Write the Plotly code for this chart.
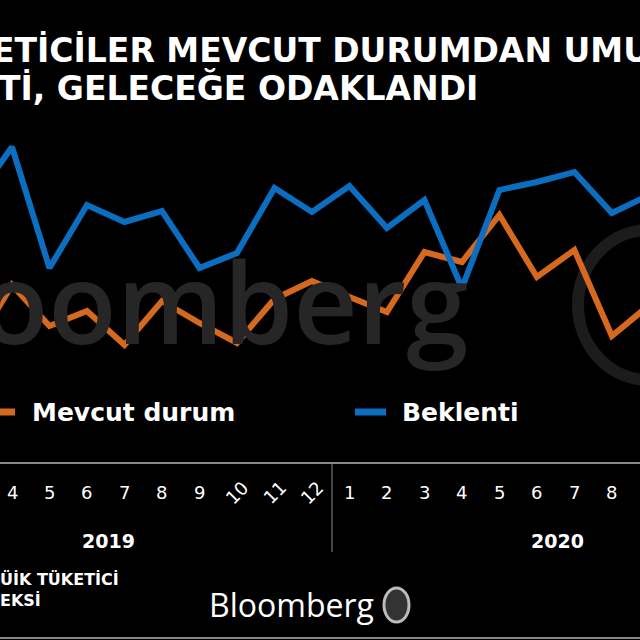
import plotly.graph_objects as go

months = ["3","4","5","6","7","8","9","10","11","12","1","2","3","4","5","6","7","8","9"]
mevcut = [26.5,57.5,37,44.5,27.5,49.5,38.5,28.5,50.5,59.5,51.5,44,74,69,92.5,61.5,75,32,47.5]
beklenti = [100,126.5,66,97.5,89,94.5,66,73.5,106,94,107,86,100,56,105,109,114,93.5,102.5]
years = ["2019","2020"]

xs = list(range(-1, len(months)-1))
fig = go.Figure()
fig.add_trace(go.Scatter(x=xs, y=mevcut, mode="lines", line=dict(color="#D7691F", width=6)))
fig.add_trace(go.Scatter(x=xs, y=beklenti, mode="lines", line=dict(color="#0B6EC0", width=6)))

W = 640.0
def px(x): return x / W
def py(y): return 1 - y / W

fig.update_layout(
    width=640, height=640, margin=dict(l=0, r=0, t=0, b=0),
    paper_bgcolor="black", plot_bgcolor="rgba(0,0,0,0)", showlegend=False,
    xaxis=dict(range=[-0.32, 16.75], visible=False, domain=[0, 1]),
    yaxis=dict(range=[0, 150], visible=False, domain=[py(400), py(100)]),
)
def A(x, y, text, size, color="white", family="DejaVu Sans", weight="bold", xanchor="left", xref="paper", **kw):
    return dict(x=x, y=py(y), xref=xref, yref="paper", text=text, showarrow=False, xanchor=xanchor,
                yanchor="middle", font=dict(family=family, size=size, color=color, weight=weight), **kw)

ann = [
    A(px(-22), 300, "oomberg", 112, color="#262626", family="Open Sans", weight=600),
    A(px(-10), 50, "ETİCİLER MEVCUT DURUMDAN UMU", 33),
    A(px(-4), 88, "Tİ, GELECEĞE ODAKLANDI", 33),
    A(px(30), 412, "Mevcut durum", 25),
    A(px(400), 412, "Beklenti", 25),
    A(px(108), 541, years[0], 19, xanchor="center"),
    A(px(557), 541, years[1], 19, xanchor="center"),
    A(px(-2), 590, "ÜİK TÜKETİCİ<br>EKSİ", 16, align="left"),
    A(px(291), 604, "Bloomberg", 32, family="Open Sans", weight="normal", xanchor="center"),
]
for i, m in enumerate(months):
    rot = -45 if m in ("10", "11", "12") else 0
    ann.append(A(xs[i], 492, m, 18, weight="normal", xanchor="center", xref="x", textangle=rot))
fig.update_layout(annotations=ann)

shapes = [
    dict(type="line", xref="paper", yref="paper", x0=0, x1=px(15), y0=py(412), y1=py(412), line=dict(color="#D7691F", width=7)),
    dict(type="line", xref="paper", yref="paper", x0=px(355), x1=px(386), y0=py(412), y1=py(412), line=dict(color="#0B6EC0", width=7)),
    dict(type="line", xref="paper", yref="paper", x0=0, x1=1, y0=py(463), y1=py(463), line=dict(color="#888888", width=2)),
    dict(type="line", xref="paper", yref="paper", x0=px(332), x1=px(332), y0=py(463), y1=py(552), line=dict(color="#888888", width=1)),
    dict(type="line", xref="paper", yref="paper", x0=0, x1=1, y0=py(638), y1=py(638), line=dict(color="#888888", width=2)),
    dict(type="circle", xref="paper", yref="paper", x0=px(384), x1=px(409), y0=py(622), y1=py(588),
         line=dict(color="#bbbbbb", width=3), fillcolor="#333333"),
    dict(type="circle", xref="paper", yref="paper", x0=px(578), x1=px(720), y0=py(380), y1=py(230),
         line=dict(color="#1c1c1c", width=12), fillcolor="rgba(0,0,0,0)", layer="below"),
]
fig.update_layout(shapes=shapes)
fig.write_html("out.html", config={"displayModeBar": False},
               post_script="document.body.style.margin='0';document.body.style.background='black';")
